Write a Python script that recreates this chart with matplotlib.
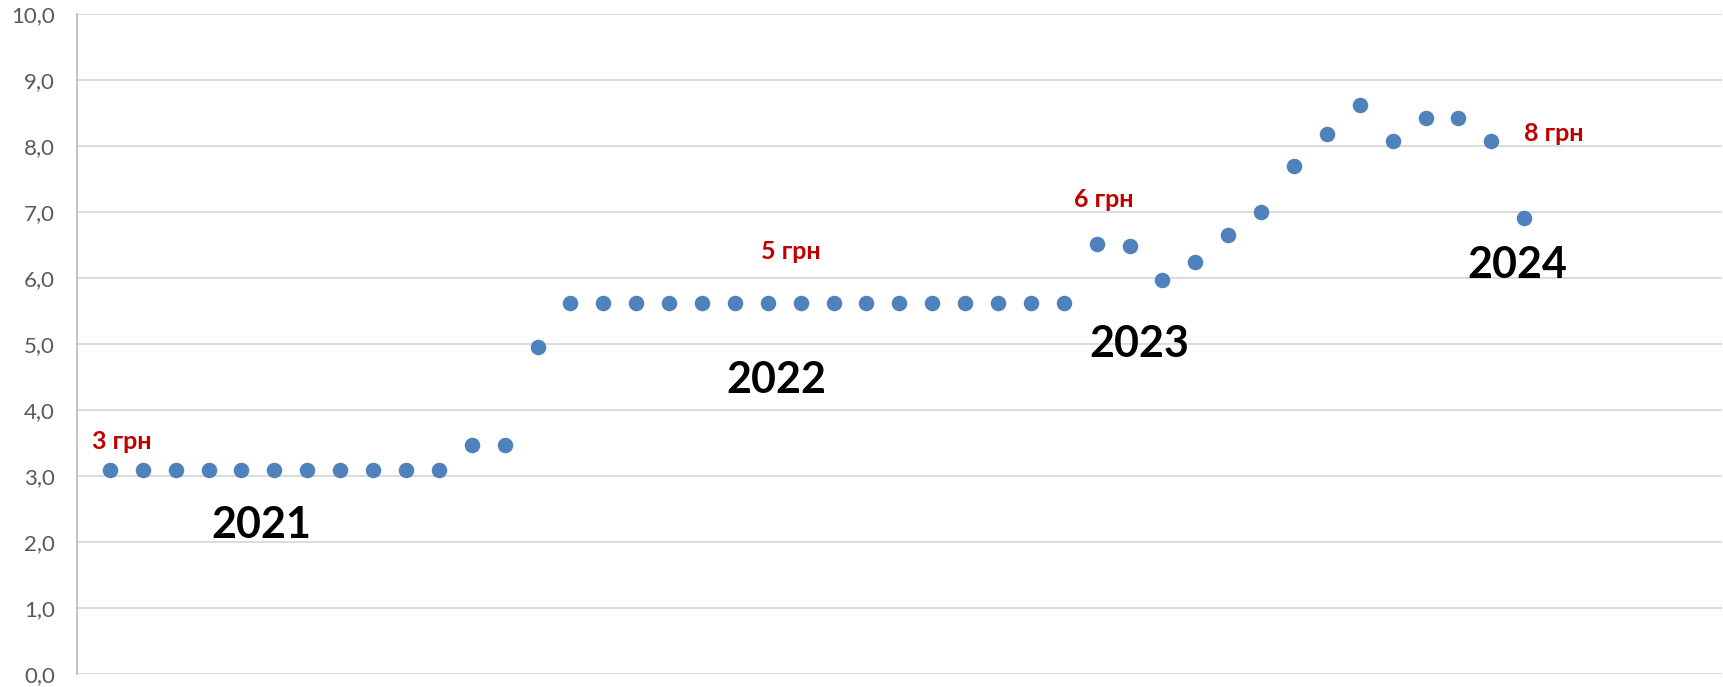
import numpy as np
import matplotlib.pyplot as plt
from matplotlib.ticker import FuncFormatter

plt.rcParams['font.family'] = ['Lato', 'DejaVu Sans']

# price per point (грн), one point per period
prices_2021 = [3.1, 3.1, 3.1, 3.1, 3.1, 3.1, 3.1, 3.1, 3.1, 3.1, 3.1, 3.47, 3.47]
prices_2022 = [4.96] + [5.62] * 16
prices_2023 = [6.52, 6.49, 5.98, 6.24, 6.65, 7.01, 7.70, 8.19, 8.63, 8.08, 8.43, 8.43, 8.08, 6.92]
prices = prices_2021 + prices_2022 + prices_2023
x = np.arange(1, len(prices) + 1)

year_labels = ["2021", "2022", "2023", "2024"]
year_pos = [(5.6, 2.26), (21.25, 4.46), (32.3, 5.0), (43.8, 6.2)]
price_labels = ["3 грн", "5 грн", "6 грн", "8 грн"]
price_pos = [(1.35, 3.52), (21.7, 6.4), (31.2, 7.19), (44.9, 8.19)]

fig = plt.figure(figsize=(17.23, 6.87), dpi=100)
ax = fig.add_axes([0.0447, 0.0185, 0.9545, 0.9607])

ax.scatter(x, prices, s=125, color='#4F81BD', zorder=3, linewidths=0)

for lab, (px, py) in zip(year_labels, year_pos):
    ax.text(px, py, lab, fontsize=31, fontweight='bold', color='black',
            ha='center', va='center')
for lab, (px, py) in zip(price_labels, price_pos):
    ax.text(px, py, lab, fontsize=18, fontweight='bold', color='#C00000',
            ha='center', va='center')

ax.set_xlim(0, 50)
ax.set_ylim(0, 10)
ax.set_yticks(np.arange(0, 11, 1))
ax.yaxis.set_major_formatter(FuncFormatter(lambda v, p: f"{v:.1f}".replace('.', ',')))
ax.set_xticks([])
ax.tick_params(axis='y', length=0, pad=16, labelsize=16, labelcolor='#595959')
ax.grid(axis='y', color='#D9D9D9', linewidth=1.3)
ax.set_axisbelow(True)
for s in ['top', 'right', 'bottom']:
    ax.spines[s].set_visible(False)
ax.spines['left'].set_color('#BFBFBF')
ax.spines['left'].set_linewidth(1.3)

fig.savefig("out.png", dpi=100)
